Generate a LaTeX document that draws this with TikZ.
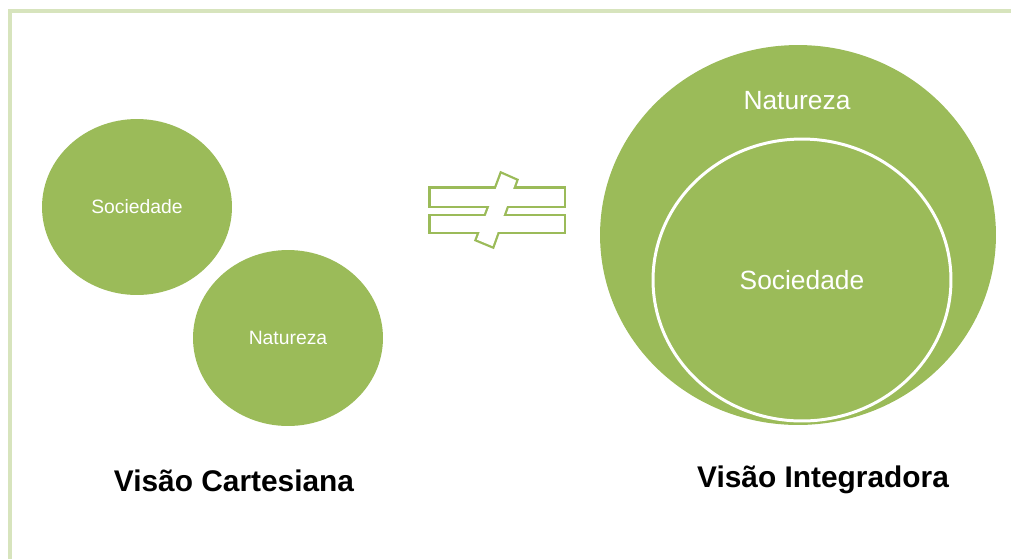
\documentclass[tikz,border=0pt]{standalone}
\usepackage{fontspec}
\setmainfont{Liberation Sans}
\usepackage{tikz}
\usetikzlibrary{
    shapes.geometric
}

\definecolor{olive}{RGB}{155,187,89}
\definecolor{paleolive}{RGB}{215,228,189}

\tikzset{
    blob/.style={ellipse, fill=olive, inner sep=0pt, text=white},
    title/.style={font=\fontsize{17}{20}\selectfont\bfseries}
}

\begin{document}
\begin{tikzpicture}[x=0.02cm, y=-0.02cm]
\useasboundingbox (0,0) rectangle (1011,559);

% frame
\draw[paleolive, line width=2pt] (10,559) -- (10,11) -- (1011,11);

% left: two separate circles
\node[blob, minimum width=3.8cm, minimum height=3.52cm,
      font=\fontsize{11}{13}\selectfont] (soc) at (137,207) {Sociedade};
\node[blob, minimum width=3.8cm, minimum height=3.52cm,
      font=\fontsize{11}{13}\selectfont] (nat) at (288,338) {Natureza};
\node[title] (cart) at (234,481) {Visão Cartesiana};

% not-equal sign (outline of the union)
\begin{scope}[olive, line width=2.6pt, line join=miter]
  \draw (430.5,188.5) rectangle (563.5,205.7);
  \draw (430.5,216.3) rectangle (563.5,231.7);
  \draw (501.4,173.9) -- (516.1,180.4) -- (492.6,246.1) -- (476.9,239.6) -- cycle;
\end{scope}
\begin{scope}[white]
  \fill (430.5,188.5) rectangle (563.5,205.7);
  \fill (430.5,216.3) rectangle (563.5,231.7);
  \fill (501.4,173.9) -- (516.1,180.4) -- (492.6,246.1) -- (476.9,239.6) -- cycle;
\end{scope}

% right: society inside nature
\node[blob, minimum width=7.92cm, minimum height=7.6cm] (bignat) at (798,235) {};
\node[blob, draw=white, line width=1.7pt, minimum width=5.96cm, minimum height=5.64cm,
      font=\fontsize{15}{18}\selectfont] (insoc) at (802,280) {Sociedade};
\node[text=white, font=\fontsize{15}{18}\selectfont] (natlabel) at (797,101) {Natureza};
\node[title] (integ) at (823,480) {Visão Integradora};
\end{tikzpicture}
\end{document}
